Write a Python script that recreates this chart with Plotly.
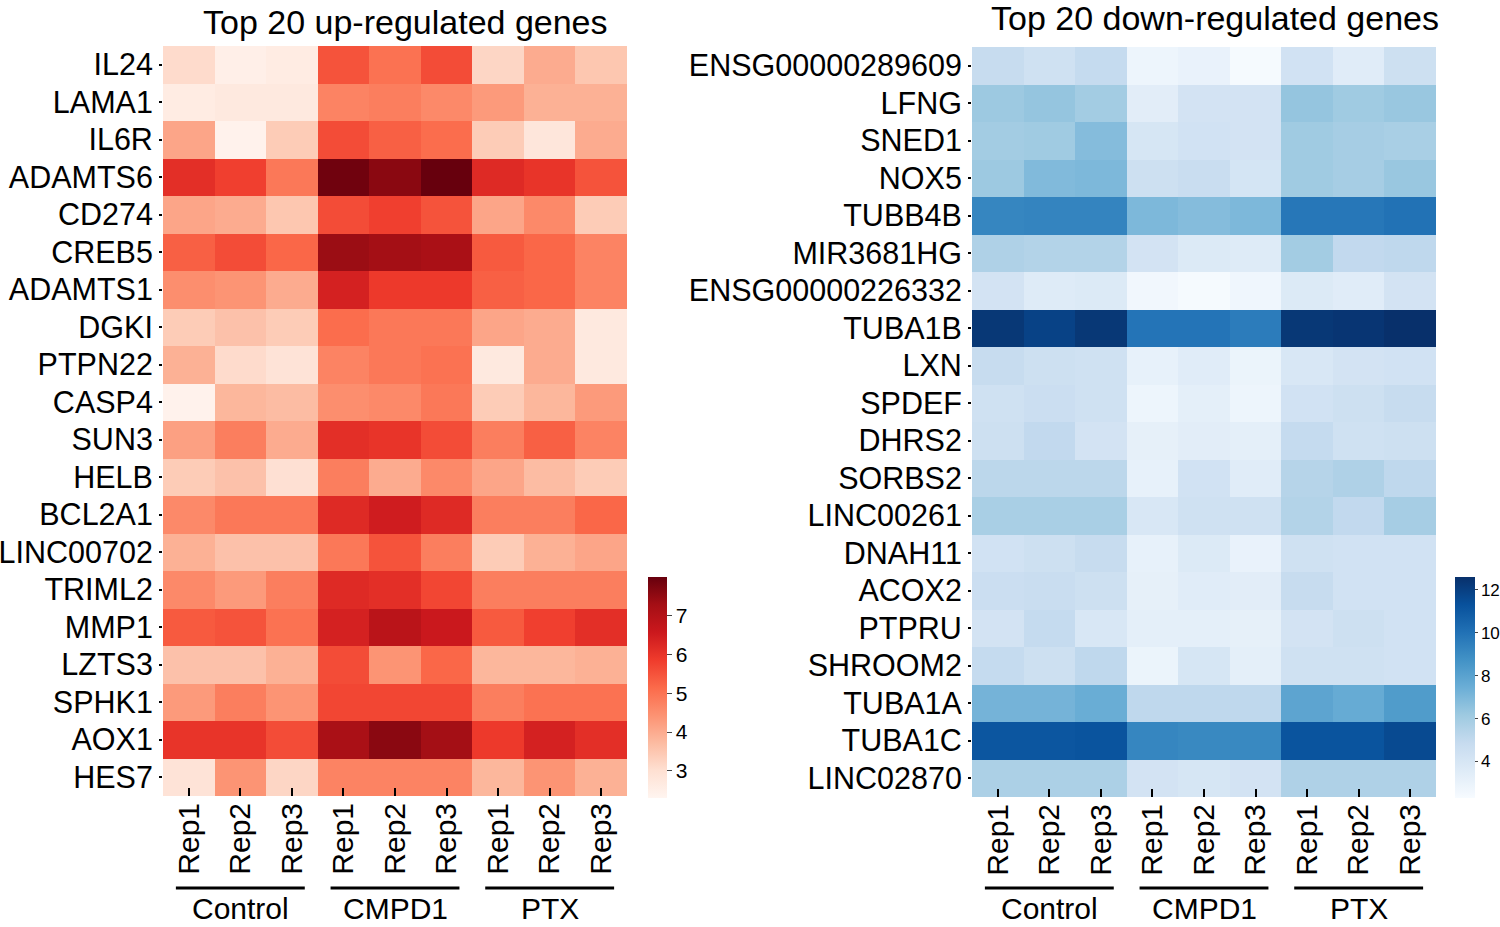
import plotly.graph_objects as go

reps = ['Rep1', 'Rep2', 'Rep3'] * 3
groups = ['Control', 'CMPD1', 'PTX']

up_genes = ['IL24', 'LAMA1', 'IL6R', 'ADAMTS6', 'CD274', 'CREB5', 'ADAMTS1', 'DGKI',
            'PTPN22', 'CASP4', 'SUN3', 'HELB', 'BCL2A1', 'LINC00702', 'TRIML2', 'MMP1',
            'LZTS3', 'SPHK1', 'AOX1', 'HES7']
up_vals = [
    [3.1, 2.5, 2.6, 5.5, 5.0, 5.6, 3.2, 4.0, 3.5],
    [2.6, 2.7, 2.7, 4.7, 4.8, 4.6, 4.3, 3.9, 3.9],
    [4.1, 2.4, 3.4, 5.6, 5.3, 5.1, 3.4, 2.8, 4.0],
    [6.1, 5.8, 4.9, 7.9, 7.6, 8.0, 6.2, 6.0, 5.5],
    [4.1, 4.0, 3.5, 5.6, 5.8, 5.5, 4.1, 4.6, 3.4],
    [5.3, 5.6, 5.2, 7.4, 7.3, 7.2, 5.4, 5.2, 4.7],
    [4.5, 4.4, 4.0, 6.4, 5.9, 5.9, 5.3, 5.2, 4.7],
    [3.4, 3.6, 3.4, 5.1, 4.9, 4.9, 4.1, 4.0, 2.7],
    [3.9, 3.1, 2.9, 4.7, 4.9, 5.0, 2.7, 4.0, 2.7],
    [2.4, 3.8, 3.7, 4.5, 4.6, 4.9, 3.4, 3.8, 4.3],
    [4.2, 4.8, 4.0, 6.1, 6.0, 5.6, 4.8, 5.3, 4.7],
    [3.4, 3.6, 3.0, 4.8, 4.0, 4.6, 4.1, 3.7, 3.4],
    [4.6, 4.9, 4.9, 6.2, 6.5, 6.2, 4.8, 4.8, 5.2],
    [3.9, 3.6, 3.6, 4.9, 5.5, 4.8, 3.4, 3.9, 4.1],
    [4.6, 4.3, 4.8, 6.2, 6.1, 5.7, 4.8, 4.8, 4.8],
    [5.4, 5.5, 5.0, 6.4, 6.9, 6.6, 5.4, 5.8, 6.1],
    [3.6, 3.6, 3.9, 5.6, 4.4, 5.2, 3.8, 3.8, 3.9],
    [4.3, 4.8, 4.4, 5.7, 5.7, 5.7, 4.8, 5.0, 5.0],
    [6.0, 6.0, 5.6, 7.2, 7.6, 7.3, 5.9, 6.4, 6.1],
    [2.9, 4.4, 3.2, 4.7, 4.7, 4.7, 3.8, 4.4, 3.9],
]

down_genes = ['ENSG00000289609', 'LFNG', 'SNED1', 'NOX5', 'TUBB4B', 'MIR3681HG',
              'ENSG00000226332', 'TUBA1B', 'LXN', 'SPDEF', 'DHRS2', 'SORBS2', 'LINC00261',
              'DNAH11', 'ACOX2', 'PTPRU', 'SHROOM2', 'TUBA1A', 'TUBA1C', 'LINC02870']
down_vals = [
    [4.8, 4.4, 4.9, 2.8, 3.0, 2.4, 4.3, 3.5, 4.5],
    [6.2, 6.4, 6.0, 3.4, 4.2, 4.2, 6.4, 6.1, 6.3],
    [6.0, 6.1, 6.8, 4.0, 4.3, 4.2, 6.1, 5.9, 5.8],
    [6.2, 6.9, 7.0, 4.5, 4.7, 4.1, 6.1, 5.9, 6.3],
    [9.2, 9.3, 9.3, 7.0, 6.8, 7.0, 9.8, 9.8, 10.0],
    [5.6, 5.5, 5.5, 4.2, 3.7, 3.6, 6.0, 5.0, 5.1],
    [4.2, 3.6, 3.7, 2.6, 2.4, 2.7, 3.7, 3.5, 4.2],
    [12.3, 11.9, 12.3, 9.9, 9.9, 9.6, 12.3, 12.4, 12.6],
    [4.8, 4.5, 4.4, 3.1, 3.5, 2.9, 3.9, 4.2, 4.3],
    [4.4, 4.6, 4.4, 2.8, 3.3, 2.8, 4.3, 4.5, 4.8],
    [4.5, 5.0, 4.2, 3.2, 3.4, 3.3, 4.9, 4.4, 4.5],
    [5.2, 5.2, 5.2, 3.1, 4.3, 3.5, 5.4, 5.6, 5.1],
    [5.8, 5.8, 5.8, 3.9, 4.4, 4.4, 5.5, 5.0, 5.9],
    [4.3, 4.5, 4.8, 3.1, 3.7, 3.0, 4.4, 4.3, 4.3],
    [4.6, 4.7, 4.5, 3.2, 3.5, 3.4, 4.8, 4.3, 4.3],
    [4.2, 4.9, 3.9, 3.3, 3.3, 3.2, 4.2, 4.5, 4.3],
    [4.9, 4.5, 5.1, 2.9, 4.0, 3.3, 4.4, 4.4, 4.3],
    [7.2, 7.2, 7.5, 5.1, 5.1, 5.1, 7.9, 7.6, 8.3],
    [11.1, 11.1, 11.2, 9.2, 9.1, 9.1, 11.2, 11.2, 11.6],
    [5.7, 5.7, 5.7, 4.2, 4.0, 4.2, 5.6, 5.6, 5.6],
]

FONT = 'Liberation Sans, Arial, sans-serif'
cols = list(range(len(reps)))

fig = go.Figure()

fig.add_trace(go.Heatmap(
    z=up_vals, x=cols, y=up_genes, colorscale='Reds', zmin=2.3, zmax=8.0,
    xaxis='x', yaxis='y',
    colorbar=dict(x=648/1500, xanchor='left', y=1-798/927, yanchor='bottom',
                  len=221/927, thickness=19, xpad=0, ypad=0, outlinewidth=0,
                  tickvals=[3, 4, 5, 6, 7], ticks='outside', ticklen=5,
                  tickfont=dict(size=21, family=FONT, color='black')),
))
fig.add_trace(go.Heatmap(
    z=down_vals, x=cols, y=down_genes, colorscale='Blues', zmin=2.3, zmax=12.6,
    xaxis='x2', yaxis='y2',
    colorbar=dict(x=1455/1500, xanchor='left', y=1-798/927, yanchor='bottom',
                  len=221/927, thickness=20, xpad=0, ypad=0, outlinewidth=0,
                  tickvals=[4, 6, 8, 10, 12], ticks='outside', ticklen=3,
                  tickfont=dict(size=17, family=FONT, color='black')),
))

xcommon = dict(tickvals=cols, ticktext=reps, tickangle=-90, ticks='inside', ticklen=8,
               tickwidth=2, tickcolor='black', showgrid=False, zeroline=False,
               automargin=False,
               tickfont=dict(size=30, family=FONT, color='black'), range=[-0.5, 8.5])
ycommon = dict(autorange='reversed', ticks='outside', ticklen=3, tickwidth=2,
               tickcolor='black', showgrid=False, zeroline=False, automargin=False,
               tickfont=dict(size=30.5, family=FONT, color='black'))

fig.update_layout(
    width=1500, height=927,
    margin=dict(l=0, r=0, t=0, b=0, autoexpand=False),
    paper_bgcolor='white', plot_bgcolor='white',
    font=dict(family=FONT, color='black'),
    xaxis=dict(domain=[163/1500, 627/1500], anchor='y', **xcommon),
    yaxis=dict(domain=[1-796/927, 1-46/927], anchor='x', **ycommon),
    xaxis2=dict(domain=[972/1500, 1436/1500], anchor='y2', **xcommon),
    yaxis2=dict(domain=[1-797/927, 1-47/927], anchor='x2', **ycommon),
)

# titles
fig.add_annotation(text='Top 20 up-regulated genes', x=405/1500, y=1-22/927,
                   xref='paper', yref='paper', xanchor='center', yanchor='middle',
                   showarrow=False, font=dict(size=34, family=FONT, color='black'))
fig.add_annotation(text='Top 20 down-regulated genes', x=1215/1500, y=1-18/927,
                   xref='paper', yref='paper', xanchor='center', yanchor='middle',
                   showarrow=False, font=dict(size=34, family=FONT, color='black'))

# group underlines + labels
for xa in ['x', 'x2']:
    for i, g in enumerate(groups):
        fig.add_shape(type='line', xref=xa, yref='paper',
                      x0=3*i - 0.25, x1=3*i + 2.25, y0=1-888/927, y1=1-888/927,
                      line=dict(color='black', width=3))
        fig.add_annotation(text=g, x=3*i + 1, y=1-926/927, xref=xa, yref='paper',
                           xanchor='center', yanchor='bottom', showarrow=False,
                           borderpad=0,
                           font=dict(size=30, family=FONT, color='black'))

# page has a default body margin; drop it so the figure fills the window
fig.write_html('out.html', config={'displayModeBar': False},
               post_script="document.body.style.margin='0px';")
